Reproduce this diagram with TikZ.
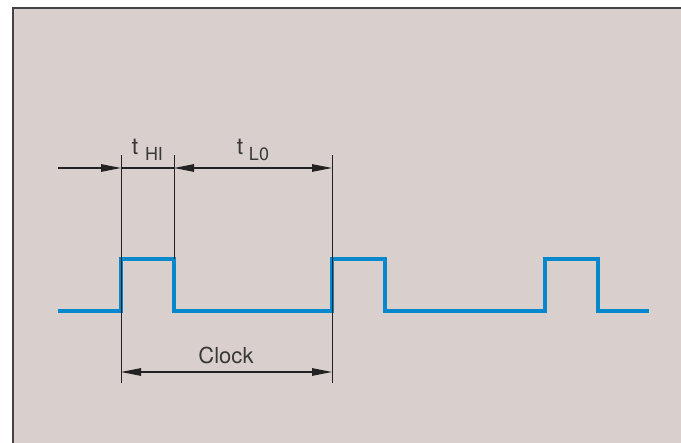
\documentclass[tikz,border=0pt]{standalone}
\usepackage{fontspec}
\setmainfont{TeX Gyre Heros}
\usetikzlibrary{arrows.meta}
\definecolor{bg}{RGB}{217,208,205}
\definecolor{sig}{RGB}{8,136,204}
\definecolor{ink}{RGB}{34,34,34}
\begin{document}
\begin{tikzpicture}[x=1pt,y=-1pt,
  signal/.style={draw=sig,line width=3.6pt,line join=miter},
  dimline/.style={draw=ink,line width=1.1pt},
  extline/.style={draw=ink,line width=1pt},
  tip/.style={-{Triangle[length=20pt,width=7.5pt]}},
  tiptwo/.style={{Triangle[length=20pt,width=7.5pt]}-{Triangle[length=20pt,width=7.5pt]}},
  lbl/.style={font=\fontsize{23}{24}\selectfont,text=ink!90,inner sep=0pt},
  clklbl/.style={font=\fontsize{22}{23}\selectfont,text=ink!90,inner sep=0pt},
  sublbl/.style={font=\fontsize{18}{19}\selectfont,text=ink!90,inner sep=0pt}]
\useasboundingbox (0,0) rectangle (681,443);
\fill[white] (0,0) rectangle (681,443);
\fill[bg] (13,9) rectangle (681,443);
\draw[ink!85,line width=2pt] (13,443) -- (13,8) -- (681,8);
% coordinates
\coordinate (s0) at (58,311);
\coordinate (r1) at (121,311);
\coordinate (h1) at (121,259);
\coordinate (h1e) at (174,259);
\coordinate (f1) at (174,311);
\coordinate (r2) at (332,311);
\coordinate (h2) at (332,259);
\coordinate (h2e) at (385,259);
\coordinate (f2) at (385,311);
\coordinate (r3) at (545,311);
\coordinate (h3) at (545,259);
\coordinate (h3e) at (598,259);
\coordinate (f3) at (598,311);
\coordinate (s1) at (649,311);
\draw[signal] (s0) -- (r1) -- (h1) -- (h1e) -- (f1) -- (r2) -- (h2) -- (h2e) -- (f2) -- (r3) -- (h3) -- (h3e) -- (f3) -- (s1);
% extension lines
\coordinate (e1t) at (121,155);
\coordinate (e1b) at (121,383);
\coordinate (e2t) at (174,155);
\coordinate (e2b) at (174,259);
\coordinate (e3t) at (332,155);
\coordinate (e3b) at (332,383);
\draw[extline] (e1t) -- (e1b);
\draw[extline] (e2t) -- (e2b);
\draw[extline] (e3t) -- (e3b);
% dimension lines
\coordinate (d0) at (58,168);
\coordinate (d1) at (121,168);
\coordinate (d2) at (174,168);
\coordinate (d3) at (332,168);
\draw[dimline,tip] (d0) -- (d1);
\draw[dimline] (d1) -- (d2);
\draw[dimline,tiptwo] (d2) -- (d3);
\coordinate (c1) at (121,372);
\coordinate (c2) at (332,372);
\draw[dimline,tiptwo] (c1) -- (c2);
% labels
\node[lbl,anchor=base] (thi) at (135,155) {t};
\node[sublbl,anchor=base] (hi) at (154,161) {HI};
\node[lbl,anchor=base] (tlo) at (240,155) {t};
\node[sublbl,anchor=base] (lo) at (259,161) {L0};
\node[clklbl,anchor=base] (clk) at (226,364) {Clock};
\end{tikzpicture}
\end{document}
